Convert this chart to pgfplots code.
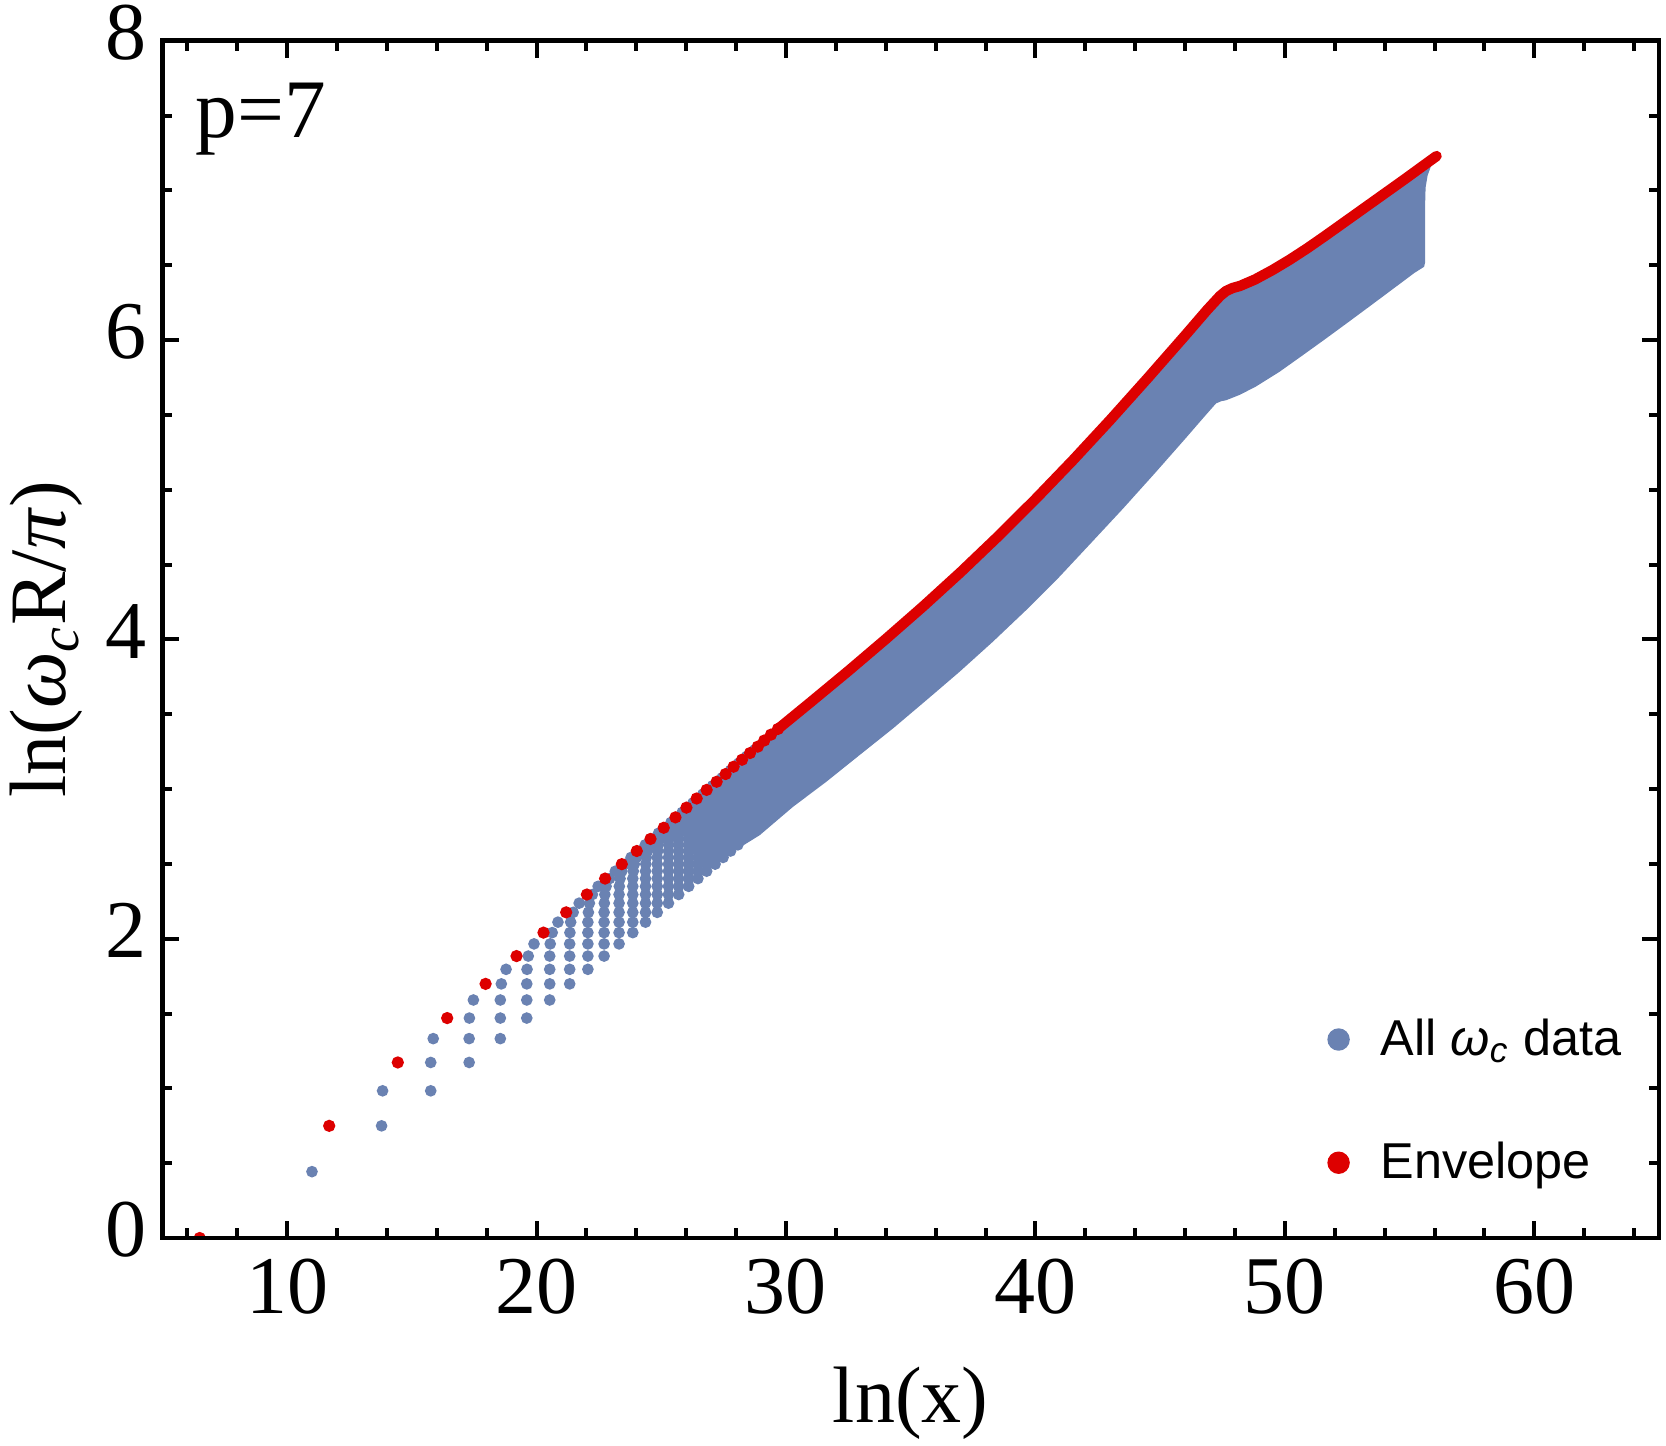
\documentclass[border=0pt]{standalone}
\usepackage{fontspec}
\setmainfont{Liberation Serif}
\newfontfamily\legendfont{Liberation Sans}
\usepackage{pgfplots}
\pgfplotsset{compat=1.18}
\definecolor{dblue}{RGB}{106,130,178}
\definecolor{dred}{RGB}{221,0,0}
\begin{document}
\begin{tikzpicture}
\begin{axis}[
  name=ax, at={(0,0)}, anchor=south west,
  scale only axis, width=374.2pt, height=299.3pt,
  xmin=5, xmax=65, ymin=0, ymax=8,
  axis on top, clip marker paths=true,
  axis line style={line width=1.17pt},
  tick style={line width=1pt, black},
  major tick length=4.2pt, minor tick length=2.5pt,
  tick align=inside, xtick pos=both, ytick pos=both,
  xtick={10,20,30,40,50,60},
  minor xtick={6,8,12,14,16,18,22,24,26,28,32,34,36,38,42,44,46,48,52,54,56,58,62,64},
  ytick={0,2,4,6,8},
  minor ytick={0.5,1,1.5,2.5,3,3.5,4.5,5,5.5,6.5,7,7.5},
  /pgf/number format/assume math mode=true,
  tick label style={font=\fontsize{20.5}{23}\selectfont},
  xticklabel style={inner sep=0pt, anchor=north, yshift=-5pt},
  yticklabel style={inner sep=0pt, anchor=east, xshift=-3.8pt, yshift=2pt},
  xlabel={ln(x)},
  xlabel style={font=\fontsize{20}{24}\selectfont, at={(axis description cs:0.5,-0.1537)}, anchor=base, inner sep=0pt},
  ylabel={ln(\textit{ω}\textsubscript{\textit{c}}R/\textit{π})},
  ylabel style={font=\fontsize{20}{24}\selectfont, at={(axis description cs:-0.0644,0.5)}, anchor=base, inner sep=0pt},
  legend style={draw=none, fill=none, at={(axis cs:51.735,1.4627)}, anchor=north west,
    inner sep=0pt, outer sep=0pt, row sep=18.8pt, column sep=7.9pt,
    font=\legendfont\fontsize{12.6}{14}\selectfont,
    nodes={inner sep=0pt, text height=9pt, text depth=3pt},
    cells={anchor=base west}},
  legend image code/.code={\draw[#1, mark size=2.6pt] plot coordinates {(0pt,3.9pt)};},
]
% all omega_c data (discrete part)
\addplot[only marks, mark=*, mark size=1.25pt, color=dblue, mark options={draw=none, fill=dblue}] coordinates {
(11.00,0.4434)
(13.79,0.7495) (13.83,0.9836)
(15.76,0.9836) (15.76,1.1731) (15.86,1.3324)
(17.30,1.1731) (17.30,1.3324) (17.31,1.4697) (17.47,1.5905)
(18.55,1.3324) (18.55,1.4697) (18.55,1.5905) (18.59,1.6982) (18.78,1.7954)
(19.61,1.4697) (19.61,1.5905) (19.61,1.6982) (19.62,1.7954) (19.67,1.8840) (19.90,1.9654)
(20.53,1.5905) (20.53,1.6982) (20.53,1.7954) (20.53,1.8840) (20.55,1.9654) (20.63,2.0407) (20.86,2.1107)
(21.33,1.6982) (21.33,1.7954) (21.33,1.8840) (21.33,1.9654) (21.34,2.0407) (21.37,2.1107) (21.47,2.1761) (21.71,2.2375)
(22.06,1.7954) (22.06,1.8840) (22.06,1.9654) (22.06,2.0407) (22.06,2.1107) (22.08,2.1761) (22.12,2.2375) (22.24,2.2953) (22.47,2.3500)
(22.71,1.8840) (22.71,1.9654) (22.71,2.0407) (22.71,2.1107) (22.71,2.1761) (22.72,2.2375) (22.74,2.2953) (22.79,2.3500) (22.93,2.4019) (23.16,2.4512)
(23.31,1.9654) (23.31,2.0407) (23.31,2.1107) (23.31,2.1761) (23.31,2.2375) (23.31,2.2953) (23.32,2.3500) (23.35,2.4019) (23.42,2.4512) (23.57,2.4982) (23.79,2.5431)
(23.86,2.0407) (23.86,2.1107) (23.86,2.1761) (23.86,2.2375) (23.86,2.2953) (23.86,2.3500) (23.86,2.4019) (23.88,2.4512) (23.92,2.4982) (24.00,2.5431) (24.15,2.5860) (24.36,2.6272)
(24.37,2.1107) (24.37,2.1761) (24.37,2.2375) (24.37,2.2953) (24.37,2.3500) (24.37,2.4019) (24.37,2.4512) (24.38,2.4982) (24.40,2.5431) (24.45,2.5860) (24.54,2.6272) (24.69,2.6667) (24.89,2.7047)
(24.84,2.1761) (24.84,2.2375) (24.84,2.2953) (24.84,2.3500) (24.84,2.4019) (24.84,2.4512) (24.84,2.4982) (24.84,2.5431) (24.86,2.5860) (24.88,2.6272) (24.94,2.6667) (25.04,2.7047) (25.20,2.7414) (25.39,2.7767)
(25.29,2.2375) (25.29,2.2953) (25.29,2.3500) (25.29,2.4019) (25.29,2.4512) (25.29,2.4982) (25.29,2.5431) (25.29,2.5860) (25.30,2.6272) (25.31,2.6667) (25.35,2.7047) (25.41,2.7414) (25.52,2.7767) (25.66,2.8109) (25.84,2.8439)
(25.70,2.2953) (25.70,2.3500) (25.70,2.4019) (25.70,2.4512) (25.70,2.4982) (25.70,2.5431) (25.70,2.5860) (25.70,2.6272) (25.70,2.6667) (25.72,2.7047) (25.74,2.7414) (25.77,2.7767) (25.84,2.8109) (25.95,2.8439) (26.10,2.8758) (26.27,2.9068)
(26.10,2.3500) (26.10,2.4019) (26.10,2.4512) (26.10,2.4982) (26.10,2.5431) (26.10,2.5860) (26.10,2.6272) (26.10,2.6667) (26.10,2.7047) (26.11,2.7414) (26.12,2.7767) (26.14,2.8109) (26.19,2.8439) (26.26,2.8758) (26.37,2.9068) (26.50,2.9368) (26.67,2.9660)
(26.47,2.4019) (26.47,2.4512) (26.47,2.4982) (26.47,2.5431) (26.47,2.5860) (26.47,2.6272) (26.47,2.6667) (26.47,2.7047) (26.47,2.7414) (26.47,2.7767) (26.48,2.8109) (26.50,2.8439) (26.52,2.8758) (26.57,2.9068) (26.65,2.9368) (26.76,2.9660) (26.90,2.9943) (27.06,3.0219)
(26.82,2.4512) (26.82,2.4982) (26.82,2.5431) (26.82,2.5860) (26.82,2.6272) (26.82,2.6667) (26.82,2.7047) (26.82,2.7414) (26.82,2.7767) (26.82,2.8109) (26.82,2.8439) (26.84,2.8758) (26.86,2.9068) (26.89,2.9368) (26.94,2.9660) (27.02,2.9943) (27.14,3.0219) (27.29,3.0487) (27.44,3.0748)
(27.16,2.4982) (27.16,2.5431) (27.16,2.5860) (27.16,2.6272) (27.16,2.6667) (27.16,2.7047) (27.16,2.7414) (27.16,2.7767) (27.16,2.8109) (27.16,2.8439) (27.16,2.8758) (27.17,2.9068) (27.18,2.9368) (27.20,2.9660) (27.24,2.9943) (27.30,3.0219) (27.39,3.0487) (27.51,3.0748) (27.64,3.1003) (27.78,3.1251)
(27.48,2.5431) (27.48,2.5860) (27.48,2.6272) (27.48,2.6667) (27.48,2.7047) (27.48,2.7414) (27.48,2.7767) (27.48,2.8109) (27.48,2.8439) (27.48,2.8758) (27.48,2.9068) (27.48,2.9368) (27.50,2.9660) (27.51,2.9943) (27.53,3.0219) (27.58,3.0487) (27.64,3.0748) (27.74,3.1003) (27.84,3.1251) (27.96,3.1493) (28.11,3.1730)
(27.78,2.5860) (27.78,2.6272) (27.78,2.6667) (27.78,2.7047) (27.78,2.7414) (27.78,2.7767) (27.78,2.8109) (27.78,2.8439) (27.78,2.8758) (27.78,2.9068) (27.78,2.9368) (27.78,2.9660) (27.79,2.9943) (27.80,3.0219) (27.82,3.0487) (27.85,3.0748) (27.90,3.1003) (27.96,3.1251) (28.05,3.1493) (28.16,3.1730) (28.29,3.1961) (28.43,3.2186)
(28.07,2.6272) (28.07,2.6667) (28.07,2.7047) (28.07,2.7414) (28.07,2.7767) (28.07,2.8109) (28.07,2.8439) (28.07,2.8758) (28.07,2.9068) (28.07,2.9368) (28.07,2.9660) (28.07,2.9943) (28.07,3.0219) (28.09,3.0487) (28.10,3.0748) (28.12,3.1003) (28.15,3.1251) (28.20,3.1493) (28.27,3.1730) (28.37,3.1961) (28.48,3.2186) (28.61,3.2407) (28.75,3.2623)
};
\addlegendentry{All \textit{ω}\textsubscript{\textit{c}} data}
% dense part of the data, drawn as its outline
\addplot[forget plot, draw=none, fill=dblue] coordinates {
(28.0,3.163) (28.24,3.1961) (28.56,3.2407) (28.87,3.2835) (29.13,3.3245) (29.40,3.3638) (29.68,3.4017)
(31.0,3.582) (32.5,3.789) (34.0,4.002) (35.5,4.221) (37.0,4.449) (38.5,4.688) (40.0,4.937) (41.5,5.197)
(43.0,5.467) (44.5,5.746) (46.0,6.031) (46.9,6.205) (47.4,6.295) (47.64,6.328) (47.9,6.348) (48.2,6.362)
(48.8,6.405) (49.5,6.468) (50.2,6.538) (50.9,6.614) (51.6,6.695) (52.4,6.79) (53.2,6.885) (54.0,6.98)
(54.8,7.075) (55.5,7.16) (56.0,7.22) (55.85,7.16) (55.72,7.10) (55.64,7.02) (55.62,6.9) (55.62,6.52)
(55.58,6.49) (55.2,6.45) (54.3,6.338) (53.4,6.226) (52.5,6.115) (51.6,6.005) (50.7,5.897) (49.78,5.788)
(48.84,5.69) (48.2,5.635) (47.64,5.598) (47.45,5.592) (47.24,5.577) (46.8,5.494) (46.0,5.34) (44.8,5.113)
(43.5,4.872) (42.16,4.632) (40.96,4.418) (39.63,4.196) (38.29,3.984) (36.96,3.784) (35.63,3.594) (34.29,3.405)
(32.95,3.227) (31.62,3.049) (30.28,2.881) (28.95,2.692) (28.35,2.630) (28.0,2.594)
};
% envelope
\addplot[only marks, mark=*, mark size=1.33pt, color=dred, mark options={draw=none, fill=dred}] coordinates {
(6.5,0) (11.69,0.7495) (14.44,1.1731) (16.42,1.4697) (17.96,1.6982) (19.20,1.8840) (20.28,2.0407)
(21.19,2.1761) (22.02,2.2953) (22.75,2.4019) (23.42,2.4982) (24.02,2.5860) (24.57,2.6667) (25.10,2.7414)
(25.57,2.8109) (26.01,2.8758) (26.42,2.9368) (26.82,2.9943) (27.22,3.0487) (27.58,3.1003) (27.90,3.1493)
(28.24,3.1961) (28.56,3.2407) (28.87,3.2835) (29.13,3.3245) (29.40,3.3638) (29.68,3.4017)
};
\addlegendentry{Envelope}
\addplot[forget plot, dred, line width=2.6pt, line cap=round, line join=round] coordinates {
(29.68,3.4017) (31.0,3.582) (32.5,3.789) (34.0,4.002) (35.5,4.221) (37.0,4.449) (38.5,4.688) (40.0,4.937)
(41.5,5.197) (43.0,5.467) (44.5,5.746) (46.0,6.031) (46.9,6.205) (47.4,6.295) (47.64,6.328) (47.9,6.348)
(48.2,6.362) (48.8,6.405) (49.5,6.468) (50.2,6.538) (50.9,6.614) (51.6,6.695) (52.4,6.79) (53.2,6.885)
(54.0,6.98) (54.8,7.075) (55.5,7.16) (56.08,7.23)
};
\node[anchor=base west, inner sep=0pt, font=\fontsize{20.8}{25}\selectfont] at (axis cs:6.31,7.354) {p=7};
\end{axis}
\pgfresetboundingbox
\path (-40.575pt,-51.75pt) rectangle (375.925pt,309.5pt);
\end{tikzpicture}
\end{document}
